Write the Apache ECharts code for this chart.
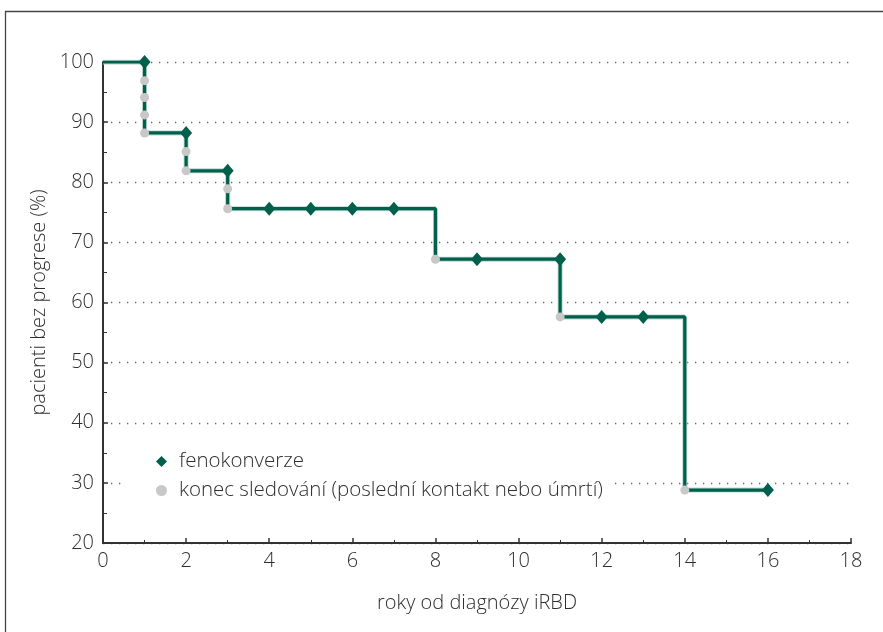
<!DOCTYPE html>
<html>
<head>
<meta charset="utf-8">
<script src="https://cdn.jsdelivr.net/npm/echarts@6/dist/echarts.min.js"></script>
<style>
html,body{margin:0;padding:0;background:#fff;}
#c{width:883px;height:632px;}
</style>
</head>
<body>
<div id="c"></div>
<script>
// Kaplan-Meier step curve (time in years, survival %)
var stepTimes = [0, 1, 2, 3, 8, 11, 14, 16];
var stepValues = [100, 88.2, 81.9, 75.6, 67.2, 57.6, 28.8, 28.8];

// events (fenokonverze) - diamonds
var eventTimes = [1, 2, 3, 4, 5, 6, 7, 9, 11, 12, 13, 16];
var eventValues = [100, 88.2, 81.9, 75.6, 75.6, 75.6, 75.6, 67.2, 67.2, 57.6, 57.6, 28.8];

// censored (konec sledování) - circles
var censTimes = [1, 1, 1, 1, 2, 2, 3, 3, 8, 11, 14];
var censValues = [96.9, 94.1, 91.2, 88.2, 85.1, 81.9, 78.9, 75.6, 67.2, 57.6, 28.8];

var xTicks = [0, 2, 4, 6, 8, 10, 12, 14, 16, 18];
var yTicks = [20, 30, 40, 50, 60, 70, 80, 90, 100];

var nameEvent = 'fenokonverze';
var nameCens = 'konec sledování (poslední kontakt nebo úmrtí)';
var xTitle = 'roky od diagnózy iRBD';
var yTitle = 'pacienti bez progrese (%)';

function zip(a, b) { return a.map(function (v, i) { return [v, b[i]]; }); }

var FONT = 'Open Sans';
var TXT = '#2e2e2e';
var FS = 20;
var GREEN = '#00604c';

var chart = echarts.init(document.getElementById('c'));
chart.setOption({
  animation: false,
  backgroundColor: '#fff',
  textStyle: { fontFamily: FONT },
  graphic: [{
    type: 'rect', z: 100, silent: true,
    shape: { x: 5.5, y: 11.5, width: 950, height: 700 },
    style: { fill: 'none', stroke: '#444', lineWidth: 1.3 }
  }],
  grid: { left: 103, right: 32, top: 62, bottom: 89 },
  legend: {
    orient: 'vertical',
    left: 124, top: 444,
    padding: [6, 8, 6, 32],
    backgroundColor: '#fff',
    itemGap: 6,
    itemWidth: 11, itemHeight: 11,
    z: 10,
    textStyle: { fontFamily: FONT, fontSize: 20.5, color: TXT, fontWeight: 300, lineHeight: 23, padding: [0, 0, 0, 7] },
    data: [
      { name: nameEvent, icon: 'diamond', itemStyle: { color: GREEN } },
      { name: nameCens, icon: 'circle', itemStyle: { color: '#c8c8c8' } }
    ]
  },
  xAxis: {
    type: 'value', min: 0, max: 18, interval: 2,
    name: xTitle, nameLocation: 'middle', nameGap: 50,
    nameTextStyle: { fontFamily: FONT, fontSize: FS, color: TXT, fontWeight: 300 },
    axisLine: { onZero: false, lineStyle: { color: '#333', width: 2 } },
    axisTick: { inside: true, length: 5, lineStyle: { color: '#333', width: 1.5 } },
    minorTick: { show: true, splitNumber: 2, length: 3, lineStyle: { color: '#333', width: 1 } },
    axisLabel: { margin: 8, fontFamily: FONT, fontSize: FS, color: TXT, fontWeight: 300 },
    splitLine: { show: false }
  },
  yAxis: {
    type: 'value', min: 20, max: 100, interval: 10,
    name: yTitle, nameLocation: 'middle', nameGap: 52,
    nameTextStyle: { fontFamily: FONT, fontSize: FS, color: TXT, fontWeight: 300 },
    axisLine: { show: true, onZero: false, lineStyle: { color: '#333', width: 2 } },
    axisTick: { show: true, inside: true, length: 5, lineStyle: { color: '#333', width: 1.5 } },
    minorTick: { show: true, splitNumber: 2, length: 4, lineStyle: { color: '#333', width: 1 } },
    axisLabel: { margin: 9, fontFamily: FONT, fontSize: FS, color: TXT, fontWeight: 300 },
    splitLine: {
      show: true,
      lineStyle: { color: '#666', width: 1.3, type: [1.3, 6.7] }
    }
  },
  series: [
    {
      type: 'line', step: 'end', data: zip(stepTimes, stepValues),
      symbol: 'none', z: 2, silent: true,
      lineStyle: { color: '#b9d6cf', width: 5 }
    },
    {
      type: 'line', step: 'end', data: zip(stepTimes, stepValues),
      symbol: 'none', z: 3, silent: true,
      lineStyle: { color: GREEN, width: 3.2 }
    },
    {
      name: nameCens, type: 'scatter', data: zip(censTimes, censValues),
      symbol: 'circle', symbolSize: 9, z: 4,
      itemStyle: { color: '#c8c8c8', opacity: 1 }
    },
    {
      name: nameEvent, type: 'scatter', data: zip(eventTimes, eventValues),
      symbol: 'diamond', symbolSize: [12, 14], z: 5,
      itemStyle: { color: GREEN, opacity: 1 }
    }
  ]
});
</script>
</body>
</html>
